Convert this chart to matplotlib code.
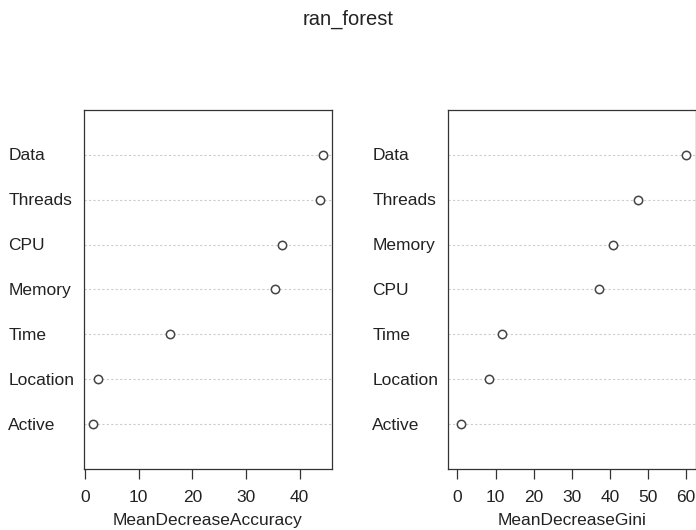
import matplotlib
matplotlib.use("Agg")
import matplotlib.pyplot as plt

plt.rcParams['font.family'] = ['Liberation Sans', 'DejaVu Sans']

# data, listed top row first
acc_names = ["Data", "Threads", "CPU", "Memory", "Time", "Location", "Active"]
acc_vals = [44.3, 43.9, 36.75, 35.4, 15.8, 2.43, 1.55]

gini_names = ["Data", "Threads", "Memory", "CPU", "Time", "Location", "Active"]
gini_vals = [60.08, 47.3, 40.9, 37.2, 11.6, 8.2, 1.05]

acc_ticks = [0, 10, 20, 30, 40]
gini_ticks = [0, 10, 20, 30, 40, 50, 60]

TXT = "#222222"
FS = 12.5


def dotpanel(ax, names, vals, xmin, ticks, xlabel):
    n = len(names)
    ys = list(range(n, 0, -1))
    lo, hi = xmin, max(vals)
    pad = (hi - lo) * 0.04
    ax.set_xlim(lo - pad, hi + pad)
    ax.set_ylim(0, n + 1)
    for y in ys:
        ax.axhline(y, color="#cccccc", lw=0.8, ls=(0, (2, 2)), zorder=1)
    ax.plot(vals, ys, "o", ms=6, mfc="white", mec="#444444", mew=1.1,
            ls="none", zorder=3)
    ax.set_yticks([])
    for y, name in zip(ys, names):
        ax.annotate(name, xy=(0, y), xycoords=("axes fraction", "data"),
                    xytext=(-76, -1), textcoords="offset pixels",
                    ha="left", va="center", fontsize=FS, color=TXT)
    ax.set_xticks(ticks)
    ax.tick_params(axis="x", length=7, width=0.9, color="#333333",
                   labelsize=FS, labelcolor=TXT, pad=8)
    ax.set_xlabel(xlabel, fontsize=FS, color=TXT, labelpad=6)
    for s in ax.spines.values():
        s.set_linewidth(0.9)
        s.set_color("#333333")


fig = plt.figure(figsize=(6.96, 5.30), dpi=100)
ax1 = fig.add_axes([0.1211, 0.1151, 0.3555, 0.6774])
ax2 = fig.add_axes([0.6441, 0.1151, 0.3552, 0.6774])

dotpanel(ax1, acc_names, acc_vals, min(acc_vals), acc_ticks, "MeanDecreaseAccuracy")
dotpanel(ax2, gini_names, gini_vals, 0, gini_ticks, "MeanDecreaseGini")

fig.text(0.5, 0.963, "ran_forest", ha="center", va="center", fontsize=14.5, color=TXT)

fig.savefig("out.png", dpi=100)
